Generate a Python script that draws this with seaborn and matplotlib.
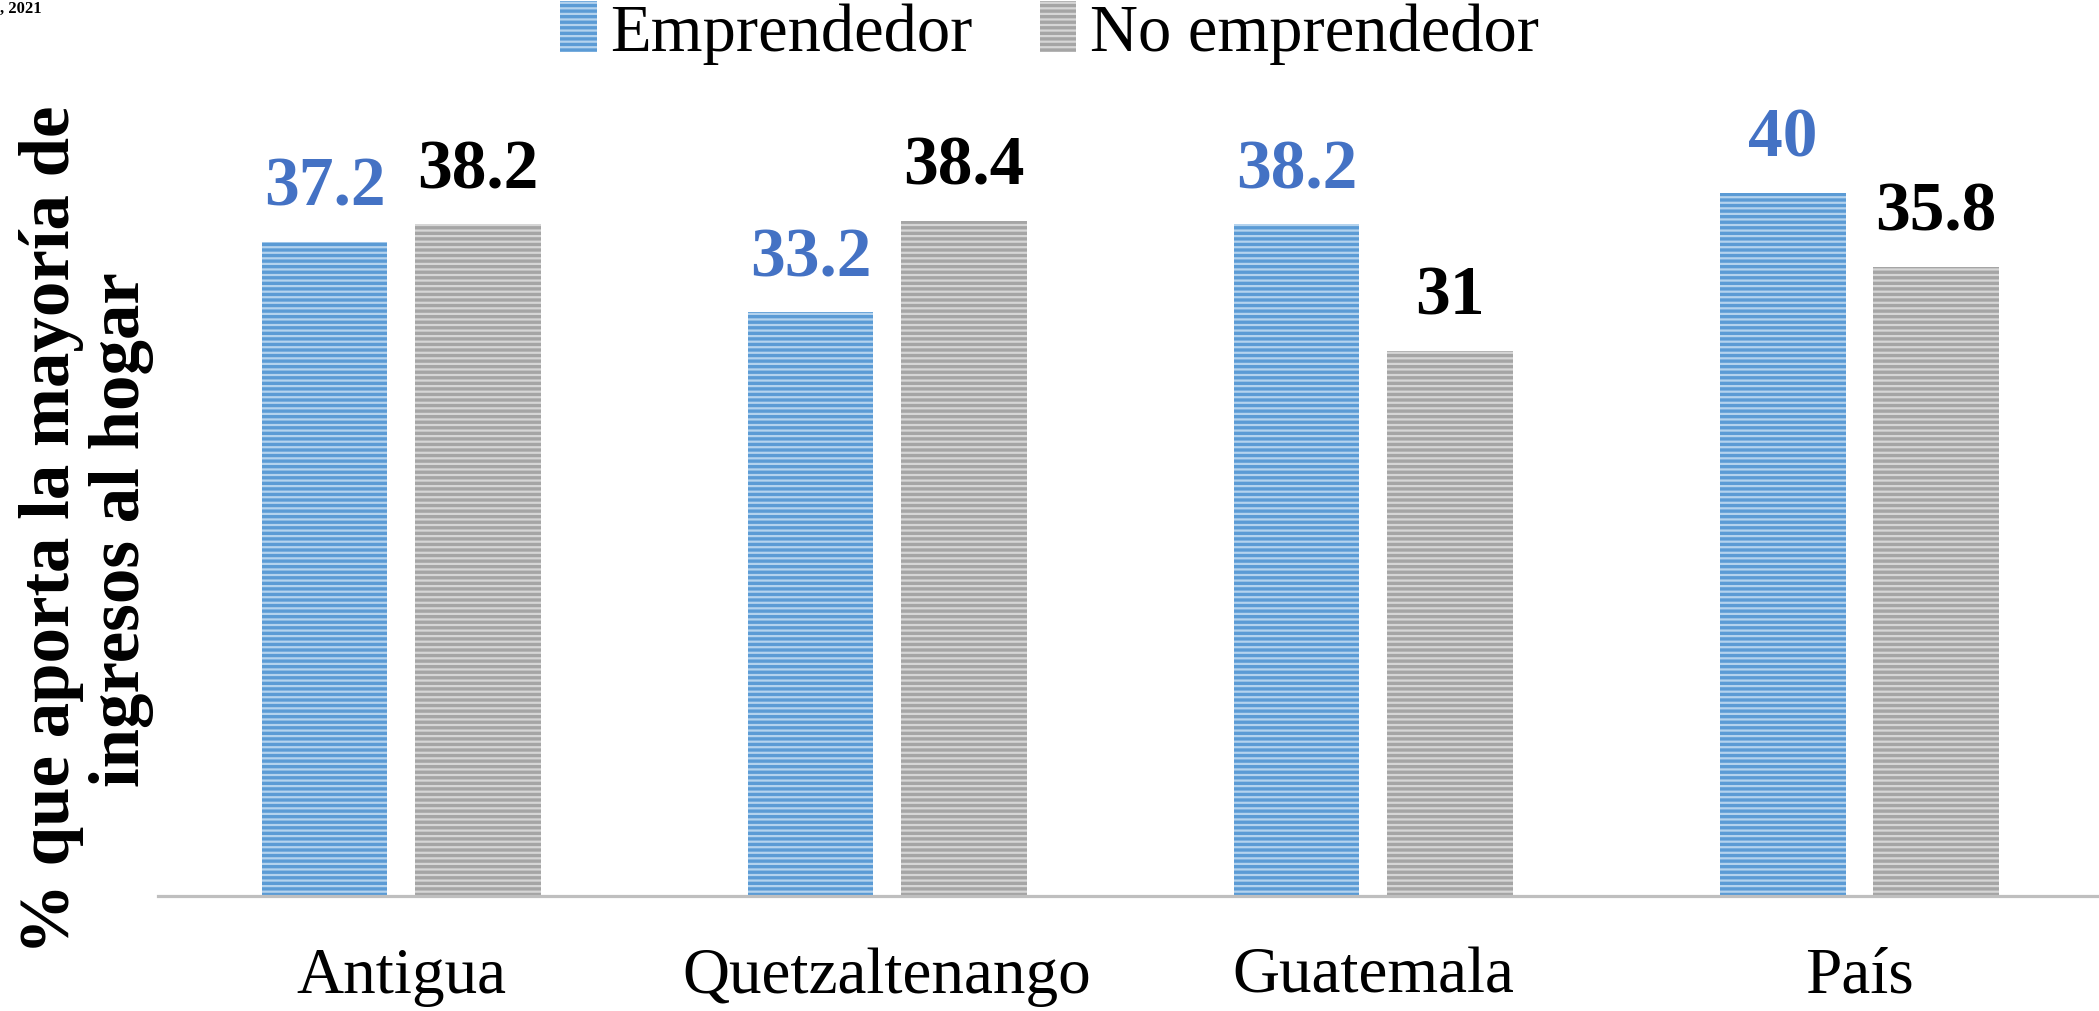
import pandas as pd
import seaborn as sns
import matplotlib.pyplot as plt
from matplotlib.patches import Patch

# ===== data =====
regiones = ["Antigua", "Quetzaltenango", "Guatemala", "País"]
grupos = ["Emprendedor", "No emprendedor"]
emprendedor = [37.2, 33.2, 38.2, 40]
no_emprendedor = [38.2, 38.4, 31, 35.8]

df = pd.DataFrame({
    "region": regiones * 2,
    "grupo": [grupos[0]] * 4 + [grupos[1]] * 4,
    "valor": emprendedor + no_emprendedor,
})

face = {"Emprendedor": "#5B9BD5", "No emprendedor": "#A5A5A5"}
stripe = {"Emprendedor": "#B4D3EE", "No emprendedor": "#D6D6D6"}
label_col = {"Emprendedor": "#4472C4", "No emprendedor": "black"}

sns.set_style("white")
plt.rcParams["font.family"] = ["Liberation Serif", "DejaVu Serif"]
plt.rcParams["text.color"] = "black"
plt.rcParams["xtick.color"] = "black"
plt.rcParams["hatch.linewidth"] = 1.6

fig = plt.figure(figsize=(20.99, 10.12), dpi=100)
ax = fig.add_axes([0.0753, 0.1136, 0.9262, 0.7818])

sns.barplot(data=df, x="region", y="valor", hue="grupo", hue_order=grupos,
            palette=face, width=0.63, gap=0.178, legend=False, ax=ax,
            errorbar=None, saturation=1)

# ===== stripes + value labels =====
for cont, g in zip(ax.containers, grupos):
    for bar in cont:
        bar.set_hatch("---")
        bar.set_edgecolor(stripe[g])
        bar.set_linewidth(0)
    ax.bar_label(cont, fmt="{:g}", padding=16, fontsize=50,
                 fontweight="bold", color=label_col[g])

ax.set_ylim(0, 45)
ax.set_xlim(-0.5, 3.5)
ax.set_yticks([])
ax.set_xlabel("")
ax.set_ylabel("")
for s in ["top", "right", "left"]:
    ax.spines[s].set_visible(False)
ax.spines["bottom"].set_color("#BFBFBF")
ax.spines["bottom"].set_linewidth(2.3)
ax.tick_params(axis="x", length=0, pad=36, labelsize=47, labelcolor="black")

# ===== legend =====
handles = [Patch(facecolor=face[g], edgecolor=stripe[g], hatch="---", linewidth=0)
           for g in grupos]
fig.legend(handles, grupos, loc="center", bbox_to_anchor=(0.5, 0.967),
           ncol=2, frameon=False, fontsize=48, handlelength=0.55,
           handleheight=0.8, handletextpad=0.2, columnspacing=1.0,
           borderpad=0, labelcolor="black")

# ===== y label =====
fig.text(0.041, 1 - 530 / 1012,
         "% que aporta la mayoría de\ningresos al hogar",
         rotation=90, ha="center", va="center", ma="center",
         fontsize=51, fontweight="bold", linespacing=1.1, color="black")

# fragmento arriba a la izquierda
fig.text(0.0, 0.999, ", 2021", fontsize=12, fontweight="bold",
         va="top", ha="left", color="black")

fig.savefig("out.png", dpi=100)
